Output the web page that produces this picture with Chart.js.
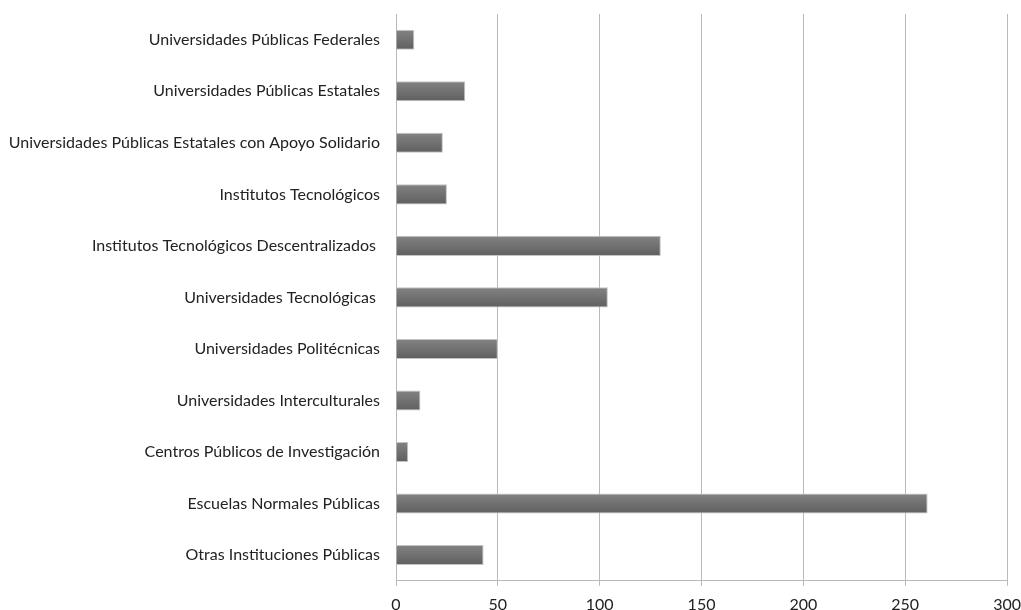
<!DOCTYPE html>
<html>
<head>
<meta charset="utf-8">
<script src="https://cdn.jsdelivr.net/npm/chart.js@4"></script>
<style>
  html, body { margin: 0; padding: 0; background: #fff; overflow: hidden; }
  #wrap { width: 1030px; height: 623px; position: relative; }
</style>
</head>
<body>
<div id="wrap"><canvas id="grafico"></canvas></div>
<script>
// categorias, de arriba hacia abajo
const categorias = [
  "Universidades Públicas Federales",
  "Universidades Públicas Estatales",
  "Universidades Públicas Estatales con Apoyo Solidario",
  "Institutos Tecnológicos",
  "Institutos Tecnológicos Descentralizados ",
  "Universidades Tecnológicas ",
  "Universidades Politécnicas",
  "Universidades Interculturales",
  "Centros Públicos de Investigación",
  "Escuelas Normales Públicas",
  "Otras Instituciones Públicas"
];
const valores = [9, 34, 23, 25, 130, 104, 50, 12, 6, 261, 43];
const ejeMin = 0;
const ejeMax = 300;
const ejePaso = 50;

const gris = "#b9b9b9";
const fuente = "Lato, 'Open Sans', sans-serif";

// degradado vertical para cada barra
function relleno(ctx) {
  const chart = ctx.chart;
  const y = chart.scales && chart.scales.y;
  if (!y || ctx.type !== "data") return "#727272";
  const cy = y.getPixelForValue(ctx.dataIndex);
  if (!isFinite(cy)) return "#727272";
  const g = chart.ctx.createLinearGradient(0, cy - 10, 0, cy + 10);
  g.addColorStop(0, "#838383");
  g.addColorStop(1, "#5f5f5f");
  return g;
}

new Chart(document.getElementById("grafico"), {
  type: "bar",
  data: {
    labels: categorias,
    datasets: [{
      data: valores,
      backgroundColor: relleno,
      borderColor: "#c4c4c4",
      borderWidth: 1,
      borderSkipped: "start",
      categoryPercentage: 1,
      barPercentage: 0.39
    }]
  },
  options: {
    indexAxis: "y",
    responsive: true,
    maintainAspectRatio: false,
    animation: false,
    layout: { padding: { top: 14, left: 0, right: 0, bottom: 0 } },
    plugins: { legend: { display: false }, tooltip: { enabled: false } },
    scales: {
      x: {
        min: ejeMin,
        max: ejeMax,
        ticks: { stepSize: ejePaso, color: "#222", font: { family: fuente, size: 16 }, padding: 9 },
        grid: { color: gris, lineWidth: 1, drawTicks: true, tickLength: 5, tickColor: gris },
        border: { color: gris }
      },
      y: {
        afterFit: (s) => { s.width = 396; },
        ticks: { color: "#222", font: { family: fuente, size: 16 }, padding: 0 },
        // marcas invisibles: dejan 16px entre etiqueta y eje
        grid: { drawOnChartArea: false, drawTicks: true, tickLength: 16, tickColor: "rgba(0,0,0,0)" },
        border: { color: gris }
      }
    }
  }
});
</script>
</body>
</html>
